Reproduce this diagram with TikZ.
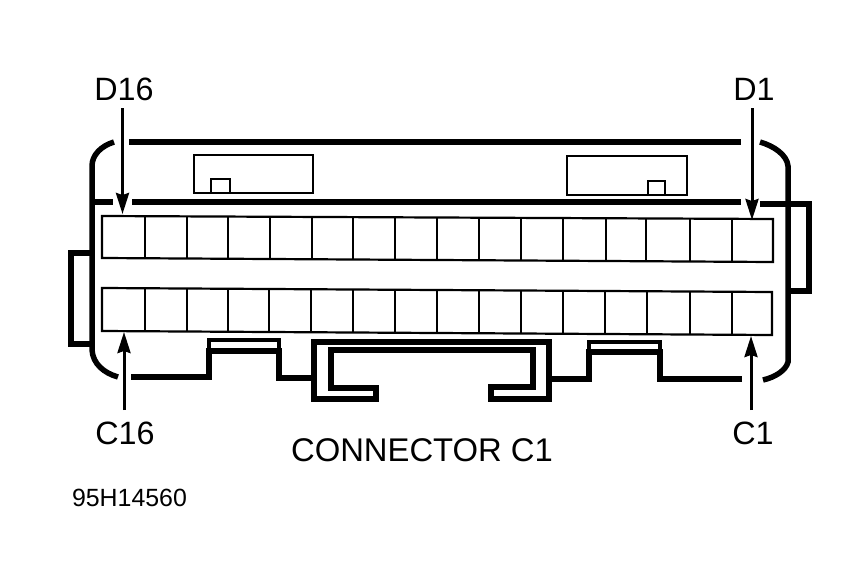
\documentclass[tikz,border=0pt]{standalone}
\usepackage{fontspec}
\setmainfont{Liberation Sans}
\usetikzlibrary{arrows.meta}
\tikzset{
  heavy/.style={line width=5.5pt,line join=miter},
  medium/.style={line width=3.6pt,line join=miter},
  thin box/.style={line width=2.2pt,line join=miter},
  cell/.style={line width=2.2pt},
  pointer/.style={line width=3pt,-{Stealth[length=21pt,width=13pt,inset=2pt]}},
  big label/.style={inner sep=0pt,font=\fontsize{32.3}{36}\selectfont},
  title label/.style={inner sep=0pt,font=\fontsize{32.8}{36}\selectfont},
  code label/.style={inner sep=0pt,font=\fontsize{24.9}{28}\selectfont},
}
\begin{document}
\begin{tikzpicture}[x=1pt,y=-1pt]
\useasboundingbox (0,0) rectangle (849,581);
\fill[white] (0,0) rectangle (849,581);
% housing
\draw[heavy] (129,142) -- (741,142);
\draw[heavy] (132,202) -- (741,202);
\draw[heavy] (92,202) -- (113,202);
\draw[heavy] (114,142) .. controls (101,146) and (92,155) .. (92,166) -- (92,350)
   .. controls (93,364) and (104,373) .. (118,377);
\draw[heavy] (760,142) .. controls (774,146) and (787,155) .. (788,166) -- (788,362)
   .. controls (786,370) and (776,377) .. (763,380);
% side tabs
\draw[heavy] (92,253) -- (71,253) -- (71,344) -- (92,344);
\draw[heavy] (760,204) -- (809,204) -- (809,291) -- (788,291);
% bottom outline
\draw[heavy] (131,377) -- (209,377) -- (209,351) -- (279,351) -- (279,378) -- (312,378);
\draw[medium] (209,351) -- (209,340) -- (279,340) -- (279,351);
\draw[heavy] (549,379) -- (589,379) -- (589,352) -- (660,352) -- (660,379) -- (742,379);
\draw[medium] (589,352) -- (589,342) -- (660,342) -- (660,352);
\draw[heavy] (314,342) -- (314,399) -- (376,399) -- (376,388) -- (331,388) -- (331,350)
   -- (533,350) -- (533,387) -- (491,387) -- (491,399) -- (549,399) -- (549,342) -- cycle;
% keys
\draw[thin box] (194,155) rectangle (313,193);
\draw[thin box] (211,193) -- (211,179) -- (230,179) -- (230,193);
\draw[thin box] (567,156) rectangle (687,195);
\draw[thin box] (648,195) -- (648,181) -- (665,181) -- (665,195);
% cavities
\draw[cell] (102,216) -- (773,219) -- (773,262) -- (102,258) -- cycle;
\foreach \cx/\ct/\cb in {145/216/258,187/216/259,228/217/259,270/217/259,312/217/260,353/217/260,395/217/260,437/218/260,479/218/261,521/218/261,563/218/261,606/218/261,646/219/261,690/219/261,732/219/262}
  \draw[cell] (\cx,\ct) -- (\cx,\cb);
\draw[cell] (102,288) -- (772,292) -- (772,335) -- (102,331) -- cycle;
\foreach \cx/\ct/\cb in {145/288/331,187/288/332,228/289/332,269/289/332,311/289/333,353/289/333,395/290/333,437/290/333,479/290/334,521/291/334,563/291/334,605/291/334,647/291/334,690/292/335,732/292/335}
  \draw[cell] (\cx,\ct) -- (\cx,\cb);
% labels
\node[big label] (d16) at (124,89) {D16};
\node[big label] (d1) at (754,89) {D1};
\node[big label] (c16) at (125,433) {C16};
\node[big label] (c1) at (753,433) {C1};
\node[title label] (title) at (422,450) {CONNECTOR C1};
\node[code label] (code) at (129.5,498) {95H14560};
\coordinate (d16tip) at (122.5,214);
\coordinate (d1tip) at (752,220);
\coordinate (c16tip) at (124,332);
\coordinate (c1tip) at (751,336);
\draw[pointer] (d16tip |- 0,108) -- (d16tip);
\draw[pointer] (d1tip |- 0,108) -- (d1tip);
\draw[pointer] (c16tip |- 0,410) -- (c16tip);
\draw[pointer] (c1tip |- 0,410) -- (c1tip);
\end{tikzpicture}
\end{document}
